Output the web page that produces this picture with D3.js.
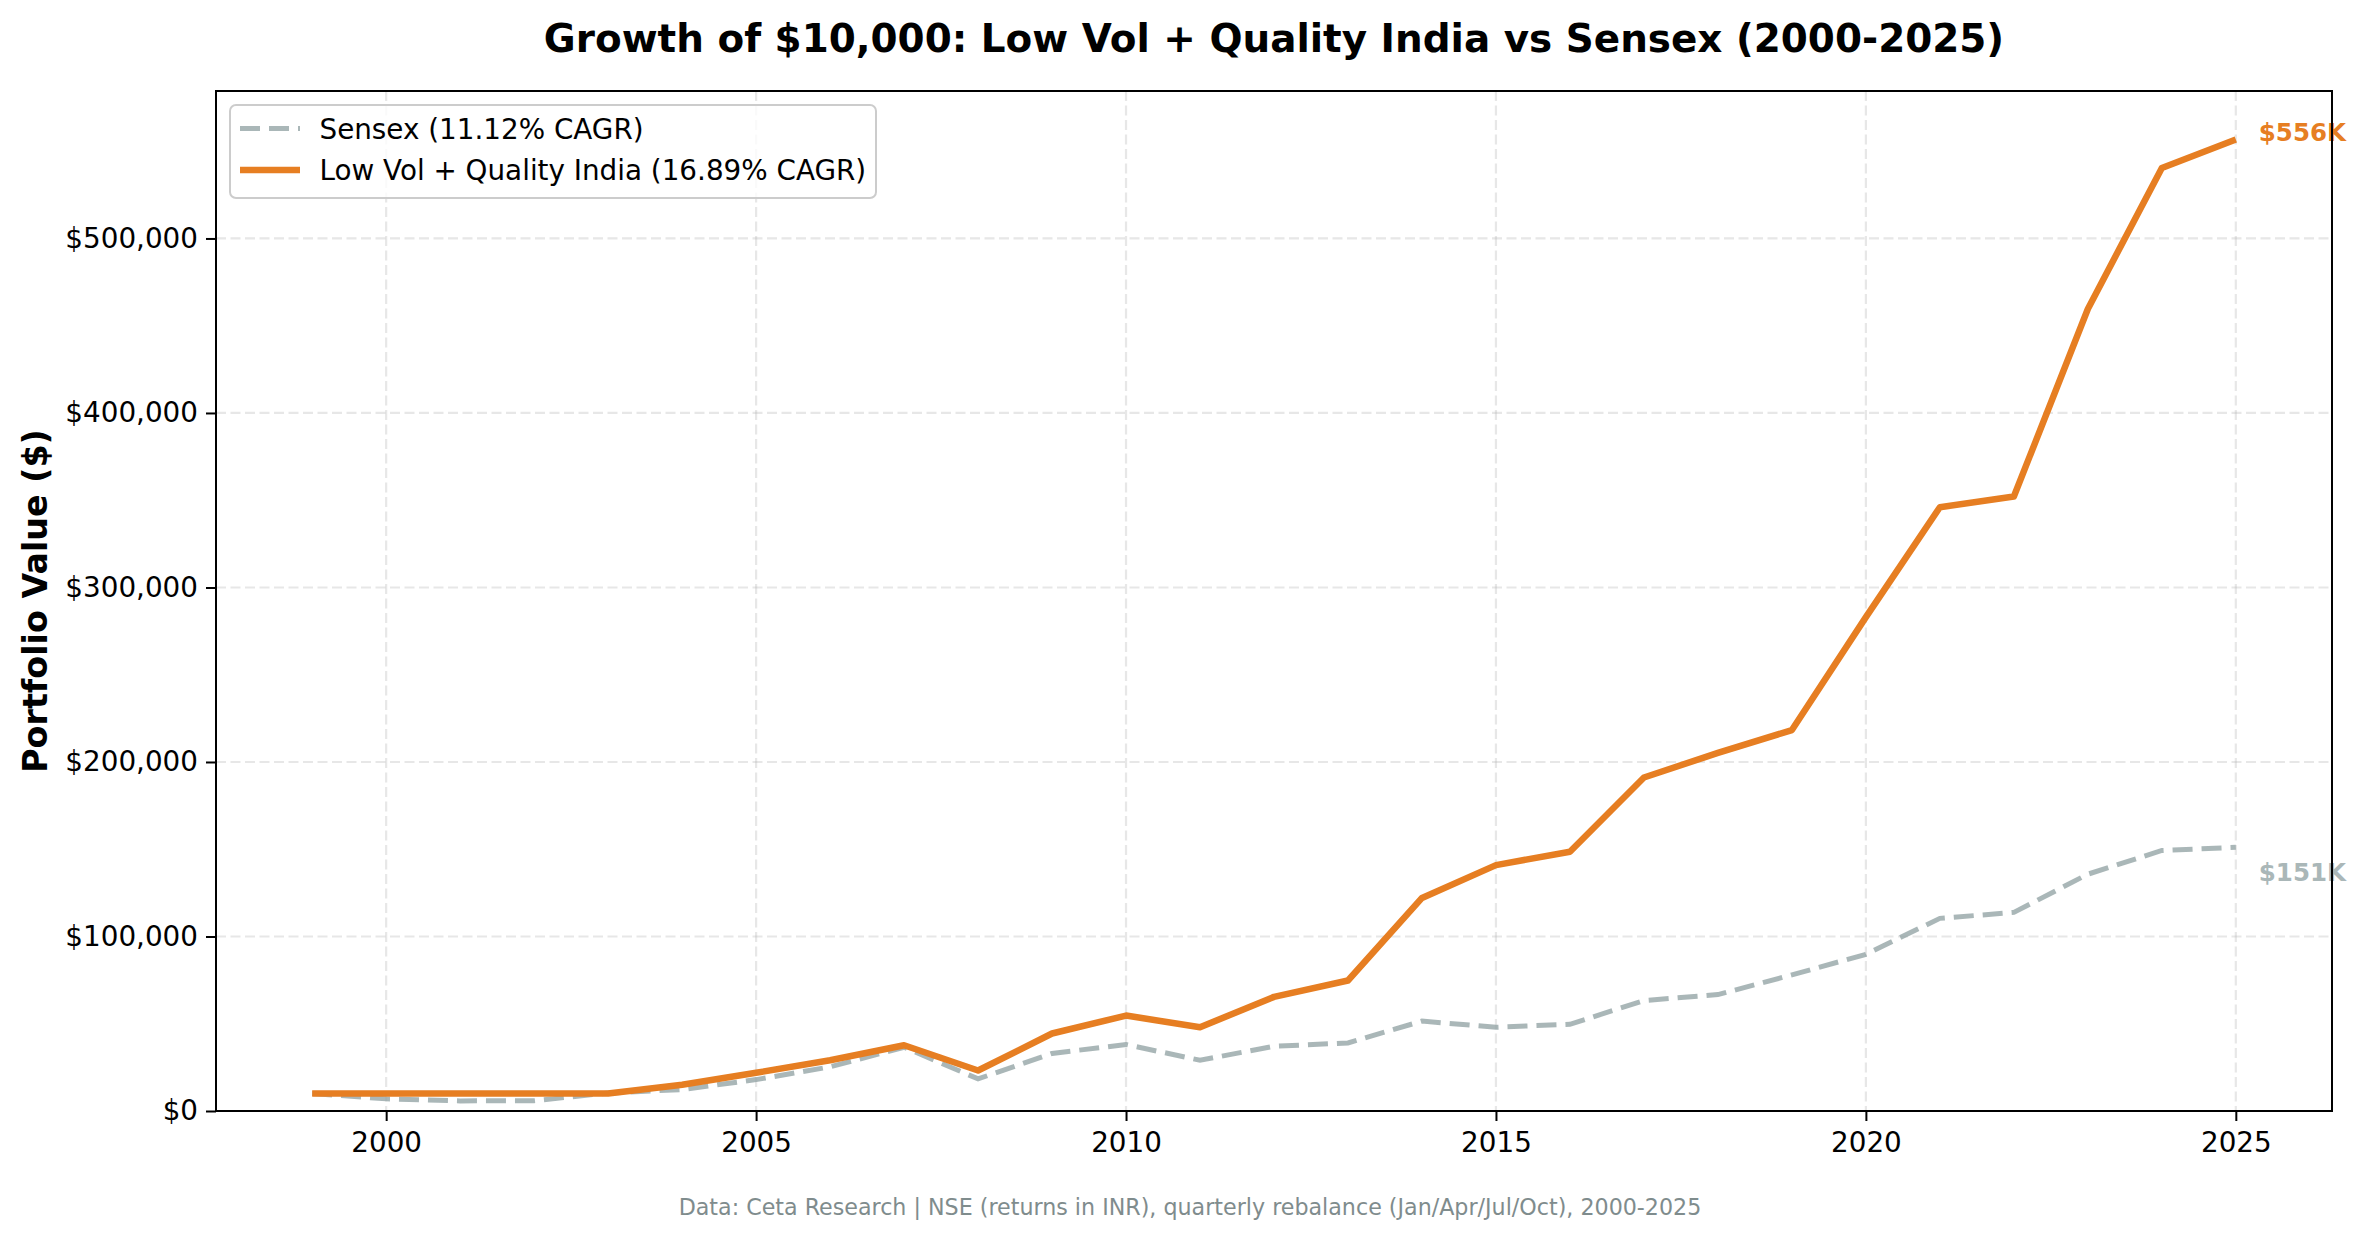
<!DOCTYPE html>
<html>
<head>
<meta charset="utf-8">
<script src="https://cdn.jsdelivr.net/npm/d3@7"></script>
<style>
  body { margin: 0; background: #fff; }
  svg { display: block; font-family: "DejaVu Sans", sans-serif; }
</style>
</head>
<body>
<script>
// values
var years = [1999, 2000, 2001, 2002, 2003, 2004, 2005, 2006, 2007, 2008, 2009, 2010, 2011,
             2012, 2013, 2014, 2015, 2016, 2017, 2018, 2019, 2020, 2021, 2022, 2023, 2024, 2025];
var sensex = [10000, 7000, 5800, 5900, 10300, 12300, 18000, 25300, 36500, 18400, 33000, 38100, 29100,
              37100, 39000, 51500, 48000, 49700, 63300, 66700, 78000, 89800, 110400, 113800, 135700, 149300, 151100];
var lowVol = [10000, 10000, 10000, 10000, 10000, 15000, 21900, 29100, 37700, 23200, 44400, 54700, 48000,
              65400, 74800, 122100, 140900, 148600, 191100, 205200, 218300, 283000, 346000, 352100, 459600, 540400, 556700];
var xTicks = [2000, 2005, 2010, 2015, 2020, 2025];
var yTicks = [0, 100000, 200000, 300000, 400000, 500000];
var seriesNames = ["Sensex (11.12% CAGR)", "Low Vol + Quality India (16.89% CAGR)"];
var endLabels = ["$151K", "$556K"];

var W = 2368, H = 1239;
var pL = 216, pR = 2332, pT = 91, pB = 1111;

var svg = d3.select("body").append("svg")
  .attr("width", W)
  .attr("height", H);

svg.append("rect").attr("width", W).attr("height", H).attr("fill", "#fff");

var x = d3.scaleLinear().domain([1997.7, 2026.3]).range([pL, pR]);
var y = d3.scaleLinear().domain([0, 584500]).range([pB, pT]);

// grid
var grid = svg.append("g");
grid.selectAll("line.gx").data(xTicks).enter().append("line")
  .attr("x1", function (d) { return x(d); })
  .attr("x2", function (d) { return x(d); })
  .attr("y1", pT).attr("y2", pB)
  .attr("stroke", "#b0b0b0").attr("stroke-opacity", 0.3)
  .attr("stroke-width", 2.2).attr("stroke-dasharray", "10,4.5");
grid.selectAll("line.gy").data(yTicks).enter().append("line")
  .attr("y1", function (d) { return y(d); })
  .attr("y2", function (d) { return y(d); })
  .attr("x1", pL).attr("x2", pR)
  .attr("stroke", "#b0b0b0").attr("stroke-opacity", 0.3)
  .attr("stroke-width", 2.2).attr("stroke-dasharray", "10,4.5");

// lines
var line = function (vals) {
  return d3.line()
    .x(function (d, i) { return x(years[i]); })
    .y(function (d) { return y(d); })(vals);
};

svg.append("path")
  .attr("d", line(sensex))
  .attr("fill", "none")
  .attr("stroke", "#95a5a6").attr("stroke-opacity", 0.8)
  .attr("stroke-width", 5)
  .attr("stroke-dasharray", "20,9");

svg.append("path")
  .attr("d", line(lowVol))
  .attr("fill", "none")
  .attr("stroke", "#e67e22")
  .attr("stroke-width", 6.5)
  .attr("stroke-linejoin", "round");

// end labels
var last = years.length - 1;
svg.append("text")
  .attr("x", x(years[last]) + 23)
  .attr("y", y(lowVol[last]) + 1.5)
  .attr("font-size", 24.5).attr("font-weight", "bold")
  .attr("fill", "#e67e22")
  .text(endLabels[1]);
svg.append("text")
  .attr("x", x(years[last]) + 23)
  .attr("y", y(sensex[last]) + 34)
  .attr("font-size", 24.5).attr("font-weight", "bold")
  .attr("fill", "#aab7b8")
  .text(endLabels[0]);

// axes
var xAxis = d3.axisBottom(x).tickValues(xTicks).tickFormat(d3.format("d"))
  .tickSize(10).tickPadding(11);
var yAxis = d3.axisLeft(y).tickValues(yTicks)
  .tickFormat(function (d) { return "$" + d3.format(",")(d); })
  .tickSize(10).tickPadding(8);

var gx = svg.append("g").attr("transform", "translate(0," + pB + ")").call(xAxis);
var gy = svg.append("g").attr("transform", "translate(" + pL + ",0)").call(yAxis);
[gx, gy].forEach(function (g) {
  g.select(".domain").remove();
  g.selectAll(".tick line").attr("stroke", "#000").attr("stroke-width", 2);
  g.selectAll(".tick text").attr("font-size", 27.8).attr("fill", "#000")
    .attr("font-family", "DejaVu Sans");
});

// frame
svg.append("rect")
  .attr("x", pL).attr("y", pT)
  .attr("width", pR - pL).attr("height", pB - pT)
  .attr("fill", "none").attr("stroke", "#000").attr("stroke-width", 2);

// legend
var lg = svg.append("g");
lg.append("rect")
  .attr("x", 230).attr("y", 105).attr("width", 646).attr("height", 93)
  .attr("rx", 6).attr("fill", "#fff").attr("fill-opacity", 0.8)
  .attr("stroke", "#cccccc").attr("stroke-width", 2);
var legRows = [
  { name: seriesNames[0], color: "#95a5a6", op: 0.8, w: 5, dash: "20,9", cy: 128.5 },
  { name: seriesNames[1], color: "#e67e22", op: 1, w: 6.5, dash: null, cy: 170 }
];
legRows.forEach(function (r) {
  lg.append("line")
    .attr("x1", 240).attr("x2", 300).attr("y1", r.cy).attr("y2", r.cy)
    .attr("stroke", r.color).attr("stroke-opacity", r.op)
    .attr("stroke-width", r.w).attr("stroke-dasharray", r.dash);
  lg.append("text")
    .attr("x", 319.5).attr("y", r.cy + 10)
    .attr("font-size", 27.8).attr("fill", "#000")
    .text(r.name);
});

// titles
svg.append("text")
  .attr("x", (pL + pR) / 2).attr("y", 52)
  .attr("text-anchor", "middle")
  .attr("font-size", 38.9).attr("font-weight", "bold")
  .text("Growth of $10,000: Low Vol + Quality India vs Sensex (2000-2025)");

svg.append("text")
  .attr("transform", "translate(47," + (pT + pB) / 2 + ") rotate(-90)")
  .attr("text-anchor", "middle")
  .attr("font-size", 33.3).attr("font-weight", "bold")
  .text("Portfolio Value ($)");

svg.append("text")
  .attr("x", 1190).attr("y", 1215)
  .attr("text-anchor", "middle")
  .attr("font-size", 22.2).attr("fill", "#7f8c8d")
  .text("Data: Ceta Research | NSE (returns in INR), quarterly rebalance (Jan/Apr/Jul/Oct), 2000-2025");
</script>
</body>
</html>
